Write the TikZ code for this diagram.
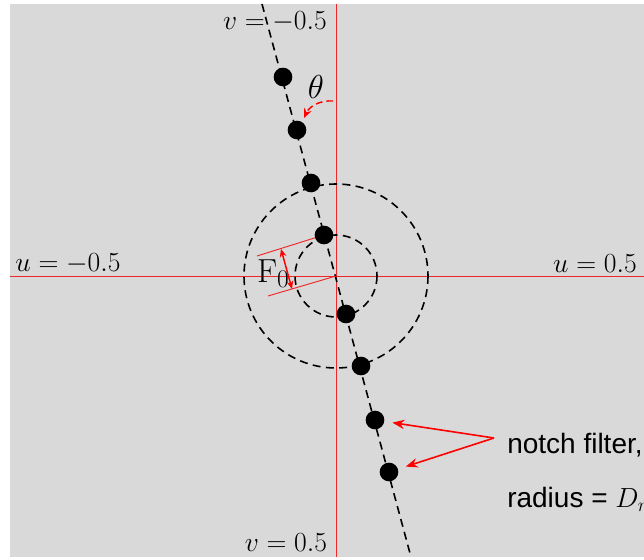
\documentclass[tikz,border=0pt]{standalone}
\usepackage{fontspec}
\newfontfamily\annfont{Liberation Sans}
\usetikzlibrary{arrows.meta}

\definecolor{bggray}{RGB}{217,217,217}
\definecolor{axred}{RGB}{238,40,40}

\tikzset{
  axis/.style={color=axred, line width=0.7pt},
  dashline/.style={dash pattern=on 6pt off 4pt, line width=1.2pt},
  notch/.style={circle, fill=black, inner sep=0pt, minimum size=14pt},
  axlabel/.style={font=\fontsize{21.5}{24}\selectfont},
  anntext/.style={anchor=base west, inner sep=0pt, font=\annfont\fontsize{21}{24}\selectfont},
}

\begin{document}
\begin{tikzpicture}[x=0.75pt,y=0.75pt,yscale=-1,xscale=1]
\useasboundingbox (0,0) rectangle (644,560);

%Shape: Background
\fill [bggray] (10,4) rectangle (644,557);

%Coordinates
\coordinate (o) at (336,276);
\coordinate (ul) at (10,276);
\coordinate (ur) at (644,276);
\coordinate (vt) at (336,4);
\coordinate (vb) at (336,557);
\coordinate (lt) at (262,4);
\coordinate (lb) at (411,557);

%Straight Lines: axes
\draw [axis] (ul) -- (ur);
\draw [axis] (vt) -- (vb);

%Shape: Circles
\draw [dashline] (o) circle [radius=41];
\draw [dashline] (o) circle [radius=92];

%Straight Lines: tilted line
\draw [dashline] (lt) -- (lb);

%Straight Lines: F0 marks
\coordinate (fa) at (257,256);
\coordinate (fb) at (268,296);
\coordinate (fa1) at (281,249);
\coordinate (fb1) at (292,289);
\draw [axis] (324,235) -- (fa);
\draw [axis] (o) -- (fb);
\draw [red, line width=1.1pt, {Stealth[length=6pt,width=5pt]}-{Stealth[length=6pt,width=5pt]}] (fa1) -- (fb1);

%Shape: notches
\node [notch] (n1) at (283,77) {};
\node [notch] (n2) at (297,130) {};
\node [notch] (n3) at (311,183) {};
\node [notch] (n4) at (324,235) {};
\node [notch] (n5) at (346,314) {};
\node [notch] (n6) at (361,366) {};
\node [notch] (n7) at (375,420) {};
\node [notch] (n8) at (389,472) {};

%Curve: theta
\coordinate (ts) at (333,101);
\coordinate (te) at (304,118);
\draw [red, dash pattern=on 5pt off 3pt, line width=1.1pt, -{Stealth[length=7pt,width=6pt]}] (ts) .. controls (319,100) and (309,107) .. (te);

%Straight Lines: annotation
\coordinate (ap) at (494,438);
\draw [red, line width=1.2pt, shorten >=6pt, -{Stealth[length=9pt,width=7pt]}] (ap) -- (n7);
\draw [red, line width=1.2pt, shorten >=6pt, -{Stealth[length=9pt,width=7pt]}] (ap) -- (n8);

% Text Node
\node [axlabel] (vtop) at (275,22) {$v=-0.5$};
% Text Node
\node [axlabel] (uleft) at (68,264) {$u=-0.5$};
% Text Node
\node [axlabel] (uright) at (595,264) {$u=0.5$};
% Text Node
\node [axlabel] (vbot) at (286,543) {$v=0.5$};
% Text Node
\node [font=\fontsize{25}{28}\selectfont] (th) at (316,87) {$\theta$};
% Text Node
\node [font=\fontsize{25}{28}\selectfont] (f0) at (273,274) {F\raisebox{-0.15em}{\fontsize{19}{21}\selectfont 0}};
% Text Node
\node [anntext] (nf) at (507,453) {notch filter,};
% Text Node
\node [anntext] (rd) at (507,507) {radius = $D_r$};

\end{tikzpicture}
\end{document}
